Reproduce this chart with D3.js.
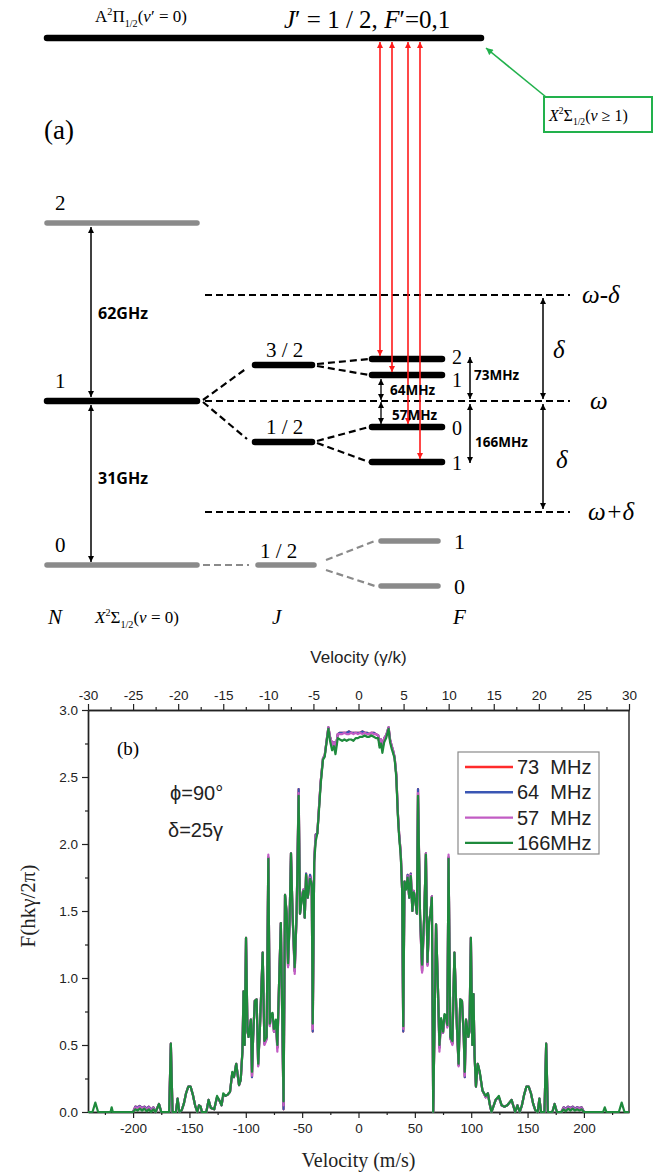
<!DOCTYPE html>
<html lang="en">
<head>
<meta charset="UTF-8">
<title>Level scheme and force profile</title>
<script src="https://d3js.org/d3.v7.min.js"></script>
<style>
  body { margin: 0; background: #fff; }
  .serif { font-family: "Liberation Serif", "Times New Roman", serif; }
  .sans { font-family: "Liberation Sans", Arial, sans-serif; }
  .bold { font-family: "Open Sans", "Liberation Sans", sans-serif; font-weight: bold; }
</style>
</head>
<body>
<svg width="661" height="1173"></svg>
<script>
// ---------- (a) level scheme values (arbitrary energy units) ----------
var excitedEnergy = 527;
var nLabels = ["0", "1", "2"];
var nEnergy = [0, 164, 342];
var jLabels = ["3 / 2", "1 / 2"];
var jEnergy = [200, 123];
var fLabels = ["2", "1", "0", "1"];
var fEnergy = [206, 190, 138, 103];
var fParent = [0, 0, 1, 1];
var groundJLabel = "1 / 2";
var groundJEnergy = 0;
var groundFLabels = ["1", "0"];
var groundFEnergy = [24, -21];
var detuneLabels = ["ω-δ", "ω", "ω+δ"];
var detuneEnergy = [270, 164, 53];
var splitLabels = ["62GHz", "31GHz", "73MHz", "64MHz", "57MHz", "166MHz"];

// ---------- (b) force profile ----------
var topTicks = [-30, -25, -20, -15, -10, -5, 0, 5, 10, 15, 20, 25, 30];
var topMinor = [-27.5, -22.5, -17.5, -12.5, -7.5, -2.5, 2.5, 7.5, 12.5, 17.5, 22.5, 27.5];
var bottomTicks = [-200, -150, -100, -50, 0, 50, 100, 150, 200];
var bottomMinor = [-225, -175, -125, -75, -25, 25, 75, 125, 175, 225];
var yTicks = [0, 0.5, 1.0, 1.5, 2.0, 2.5, 3.0];
var yMinor = [0.25, 0.75, 1.25, 1.75, 2.25, 2.75];

var seriesNames = ["73  MHz", "64  MHz", "57  MHz", "166MHz"];
var seriesColors = ["#ff2b2b", "#3a56b4", "#c25cc4", "#1e8a3c"];

var velocity = [
  -240, -236, -233.5, -231, -220, -219, -218, -200, -198, -196,
  -194, -192, -190, -188, -186, -184, -182, -180, -177, -175,
  -168, -166.5, -165, -162, -160.5, -159, -157, -155, -153, -151,
  -149, -147, -145, -143, -141.5, -140, -139, -135, -133, -131,
  -128, -125.5, -123, -121.5, -120, -118, -116, -114, -112, -110.5,
  -108.5, -106, -104.5, -103, -102, -101, -99.8, -98.5, -97.5, -95.5,
  -94.5, -93.5, -92, -90.4, -89, -87.5, -85, -83.5, -81.5, -80,
  -78.7, -77.5, -76.3, -75, -73.3, -72, -70.5, -68.9, -66.5, -65.2,
  -63.7, -62.5, -61.2, -59.9, -58.5, -56.6, -54.9, -53.1, -51.9, -50.4,
  -48.9, -47.7, -46.5, -45, -43, -41.5, -40.6, -39.3, -38, -36.5,
  -35, -33.5, -31.5, -30, -28, -26.7, -25.3, -24.2, -23.4, -21.8,
  -20.4, -18.4, -16.5, -14.5, -12.5, -10.5, -8.5, -6.5, -4.5, -2.5,
  -0.5, 1.5, 3.5, 5.5, 7.5, 9.5, 11.5, 13.5, 15.5, 17.5,
  18.7, 20, 21.2, 22.8, 24.5, 26.7, 28, 29.5, 30.6, 32,
  33.5, 35, 36, 37.5, 38.7, 39.7, 40.8, 42.2, 43.6, 45,
  46.4, 47.8, 49, 50.5, 51.8, 52.8, 54.6, 56.4, 58.3, 59.8,
  61.2, 62.6, 63.8, 65.1, 66.3, 68.8, 70.4, 71.8, 73.3, 75,
  76.3, 77.6, 78.8, 79.9, 81.5, 83.3, 85.1, 87.4, 88.8, 90.3,
  91.8, 93.4, 94.3, 95.4, 97.4, 98.4, 99.7, 101, 102, 103,
  104.2, 105.8, 107.6, 110, 112.9, 114.8, 116.4, 118, 121.7, 124.5,
  127, 129.5, 132, 135.8, 139, 141, 143, 145, 147, 149,
  151, 153, 155, 157, 159, 160.5, 162, 165, 166.5, 168,
  172, 174, 176, 180, 182, 184, 186, 188, 190, 192,
  194, 196, 198, 200, 217, 218.5, 220, 231, 233.5, 236, 240
];

var f166 = [
  0, 0, 0.07, 0, 0, 0.035, 0, 0, 0.02, 0.01,
  0.025, 0.01, 0.025, 0.005, 0.02, 0, 0.02, 0, 0.06, 0,
  0, 0.51, 0, 0, 0.1, 0, 0.01, 0.06, 0.14, 0.19,
  0.19, 0.13, 0.05, 0, 0.05, 0.04, 0, 0, 0.09, 0.03,
  0.02, 0.12, 0.08, 0.05, 0.14, 0.12, 0.13, 0.15, 0.3, 0.26,
  0.36, 0.2, 0.24, 0.45, 0.9, 0.5, 1.30, 0.6, 0.56, 0.69,
  0.3, 0.56, 0.83, 0.84, 0.36, 0.62, 1.19, 0.53, 0.56, 1.89,
  0.66, 0.73, 0.74, 0.62, 0.69, 0.5, 0.95, 1.41, 0.08, 1.62,
  1.48, 1.11, 1.41, 1.93, 1.48, 1.08, 1.48, 2.36, 1.48, 1.58,
  1.65, 1.45, 1.77, 1.6, 1.74, 1.7, 0.66, 1.86, 2.02, 2.08,
  2.26, 2.45, 2.63, 2.65, 2.78, 2.86, 2.77, 2.73, 2.7, 2.73,
  2.67, 2.79, 2.78, 2.77, 2.78, 2.77, 2.78, 2.78, 2.77, 2.79,
  2.79, 2.80, 2.80, 2.81, 2.80, 2.80, 2.81, 2.80, 2.79, 2.79,
  2.72, 2.75, 2.68, 2.76, 2.79, 2.86, 2.76, 2.71, 2.68, 2.64,
  2.5, 2.2, 2.06, 1.91, 1.66, 0.64, 1.72, 1.66, 1.75, 1.6,
  1.76, 1.5, 1.64, 1.57, 1.48, 2.36, 1.48, 1.1, 1.47, 1.92,
  1.12, 1.42, 1.48, 1.6, 0, 1.4, 0.95, 0.5, 0.7, 0.6,
  0.73, 0.72, 0.65, 1.89, 0.56, 0.53, 1.19, 0.62, 0.36, 0.84,
  0.83, 0.56, 0.3, 0.69, 0.56, 0.6, 1.30, 0.5, 0.88, 0.42,
  0.19, 0.36, 0.3, 0.16, 0.12, 0.14, 0.06, 0, 0.09, 0.12,
  0.05, 0.04, 0.05, 0.09, 0, 0.05, 0, 0.05, 0.13, 0.19,
  0.19, 0.14, 0.06, 0.01, 0, 0.1, 0, 0, 0.51, 0,
  0, 0.06, 0, 0, 0.02, 0.005, 0.025, 0.01, 0.025, 0.01,
  0.02, 0.01, 0.02, 0, 0, 0.035, 0, 0, 0.07, 0, 0
];

var f57 = [
  null, null, null, null, null, null, null, 0, 0.035, 0.03,
  0.04, 0.025, 0.035, 0.02, 0.035, 0.01, 0.03, 0, 0.06, 0,
  0, 0.51, 0, 0, 0.1, 0, 0.01, 0.06, 0.14, 0.19,
  0.19, 0.13, 0.05, 0, 0.05, 0.04, 0, 0, 0.09, 0.03,
  0.02, 0.11, 0.08, 0.05, 0.12, 0.12, 0.13, 0.15, 0.29, 0.26,
  0.36, 0.2, 0.24, 0.45, 0.9, 0.5, 1.30, 0.6, 0.56, 0.69,
  0.27, 0.56, 0.83, 0.84, 0.34, 0.62, 1.19, 0.5, 0.54, 1.92,
  0.64, 0.72, 0.72, 0.6, 0.68, 0.45, 0.95, 1.41, 0.05, 1.62,
  1.48, 1.08, 1.41, 1.93, 1.46, 1.03, 1.48, 2.38, 1.48, 1.6,
  1.66, 1.45, 1.76, 1.6, 1.75, 1.7, 0.62, 1.88, 2.05, 2.08,
  2.28, 2.47, 2.64, 2.66, 2.79, 2.87, 2.8, 2.77, 2.74, 2.76,
  2.71, 2.82, 2.82, 2.82, 2.83, 2.82, 2.82, 2.83, 2.82, 2.83,
  2.82, 2.83, 2.82, 2.83, 2.82, 2.82, 2.83, 2.82, 2.82, 2.81,
  2.74, 2.78, 2.71, 2.79, 2.81, 2.87, 2.78, 2.73, 2.7, 2.65,
  2.52, 2.22, 2.08, 1.93, 1.66, 0.62, 1.72, 1.67, 1.76, 1.6,
  1.77, 1.5, 1.65, 1.58, 1.48, 2.38, 1.47, 1.04, 1.46, 1.93,
  1.09, 1.42, 1.48, 1.61, 0, 1.4, 0.95, 0.45, 0.69, 0.59,
  0.72, 0.71, 0.63, 1.92, 0.55, 0.5, 1.19, 0.62, 0.34, 0.84,
  0.83, 0.56, 0.27, 0.69, 0.56, 0.6, 1.30, 0.5, 0.88, 0.42,
  0.19, 0.36, 0.29, 0.16, 0.11, 0.14, 0.06, 0, 0.09, 0.11,
  0.05, 0.04, 0.05, 0.09, 0, 0.05, 0, 0.05, 0.13, 0.19,
  0.19, 0.14, 0.06, 0.01, 0, 0.1, 0, 0, 0.51, 0,
  0, 0.06, 0, 0, 0.03, 0.02, 0.035, 0.025, 0.035, 0.02,
  0.03, 0.025, 0.03, 0, null, null, null, null, null, null, null
];

var f64 = [
  null, null, null, null, null, null, null, 0, 0.04, 0.035,
  0.045, 0.03, 0.04, 0.025, 0.04, 0.015, 0.035, 0, 0.06, 0,
  0, 0.51, 0, 0, 0.1, 0, 0.01, 0.06, 0.14, 0.19,
  0.19, 0.13, 0.05, 0, 0.05, 0.04, 0, 0, 0.09, 0.03,
  0.02, 0.11, 0.08, 0.05, 0.12, 0.12, 0.13, 0.15, 0.29, 0.26,
  0.36, 0.2, 0.24, 0.45, 0.9, 0.5, 1.30, 0.6, 0.56, 0.69,
  0.26, 0.56, 0.83, 0.84, 0.35, 0.62, 1.19, 0.51, 0.55, 1.9,
  0.65, 0.72, 0.73, 0.6, 0.68, 0.48, 0.95, 1.41, 0.02, 1.62,
  1.48, 1.09, 1.41, 1.93, 1.47, 1.05, 1.48, 2.41, 1.48, 1.6,
  1.66, 1.45, 1.78, 1.6, 1.77, 1.7, 0.6, 1.88, 2.07, 2.08,
  2.28, 2.47, 2.64, 2.66, 2.79, 2.87, 2.8, 2.77, 2.74, 2.76,
  2.71, 2.82, 2.83, 2.83, 2.83, 2.83, 2.84, 2.83, 2.83, 2.83,
  2.83, 2.83, 2.84, 2.83, 2.83, 2.82, 2.83, 2.83, 2.82, 2.81,
  2.74, 2.78, 2.71, 2.79, 2.81, 2.87, 2.78, 2.73, 2.7, 2.65,
  2.52, 2.22, 2.08, 1.93, 1.66, 0.6, 1.72, 1.67, 1.77, 1.6,
  1.78, 1.5, 1.65, 1.58, 1.48, 2.41, 1.47, 1.05, 1.46, 1.93,
  1.1, 1.42, 1.48, 1.61, 0, 1.4, 0.95, 0.48, 0.69, 0.59,
  0.72, 0.71, 0.64, 1.9, 0.55, 0.51, 1.19, 0.62, 0.35, 0.84,
  0.83, 0.56, 0.26, 0.69, 0.56, 0.6, 1.30, 0.5, 0.88, 0.42,
  0.19, 0.36, 0.29, 0.16, 0.11, 0.14, 0.06, 0, 0.09, 0.11,
  0.05, 0.04, 0.05, 0.09, 0, 0.05, 0, 0.05, 0.13, 0.19,
  0.19, 0.14, 0.06, 0.01, 0, 0.1, 0, 0, 0.51, 0,
  0, 0.06, 0, 0, 0.035, 0.025, 0.04, 0.03, 0.04, 0.025,
  0.035, 0.03, 0.035, 0, null, null, null, null, null, null, null
];

var f73 = [
  null, null, null, null, null, null, null, 0, 0.04, 0.035,
  0.045, 0.03, 0.04, 0.025, 0.04, 0.015, 0.035, 0, 0.06, 0,
  0, 0.51, 0, 0, 0.1, 0, 0.01, 0.06, 0.14, 0.19,
  0.19, 0.13, 0.05, 0, 0.05, 0.04, 0, 0, 0.09, 0.03,
  0.02, 0.11, 0.08, 0.05, 0.12, 0.12, 0.13, 0.15, 0.29, 0.26,
  0.36, 0.2, 0.24, 0.45, 0.9, 0.5, 1.30, 0.6, 0.56, 0.69,
  0.26, 0.56, 0.83, 0.84, 0.35, 0.62, 1.19, 0.51, 0.55, 1.9,
  0.65, 0.72, 0.73, 0.6, 0.68, 0.48, 0.95, 1.41, 0.02, 1.62,
  1.48, 1.09, 1.41, 1.93, 1.47, 1.05, 1.48, 2.41, 1.48, 1.6,
  1.66, 1.45, 1.78, 1.6, 1.77, 1.7, 0.6, 1.88, 2.07, 2.08,
  2.28, 2.47, 2.64, 2.66, 2.79, 2.87, 2.8, 2.77, 2.74, 2.76,
  2.71, 2.82, 2.83, 2.83, 2.83, 2.83, 2.84, 2.83, 2.83, 2.83,
  2.83, 2.83, 2.84, 2.83, 2.83, 2.82, 2.83, 2.83, 2.82, 2.81,
  2.74, 2.78, 2.71, 2.79, 2.81, 2.87, 2.78, 2.73, 2.7, 2.65,
  2.52, 2.22, 2.08, 1.93, 1.66, 0.6, 1.72, 1.67, 1.77, 1.6,
  1.78, 1.5, 1.65, 1.58, 1.48, 2.41, 1.47, 1.05, 1.46, 1.93,
  1.1, 1.42, 1.48, 1.61, 0, 1.4, 0.95, 0.48, 0.69, 0.59,
  0.72, 0.71, 0.64, 1.9, 0.55, 0.51, 1.19, 0.62, 0.35, 0.84,
  0.83, 0.56, 0.26, 0.69, 0.56, 0.6, 1.30, 0.5, 0.88, 0.42,
  0.19, 0.36, 0.29, 0.16, 0.11, 0.14, 0.06, 0, 0.09, 0.11,
  0.05, 0.04, 0.05, 0.09, 0, 0.05, 0, 0.05, 0.13, 0.19,
  0.19, 0.14, 0.06, 0.01, 0, 0.1, 0, 0, 0.51, 0,
  0, 0.06, 0, 0, 0.035, 0.025, 0.04, 0.03, 0.04, 0.025,
  0.035, 0.03, 0.035, 0, null, null, null, null, null, null, null
];

var seriesValues = [f73, f64, f57, f166];

var svg = d3.select("svg");
var defs = svg.append("defs");

function addMarker(id, color, w, h) {
  defs.append("marker")
    .attr("id", id)
    .attr("viewBox", "0 0 10 10")
    .attr("refX", 10).attr("refY", 5)
    .attr("markerUnits", "userSpaceOnUse")
    .attr("markerWidth", w).attr("markerHeight", h)
    .attr("orient", "auto-start-reverse")
    .append("path").attr("d", "M0,0L10,5L0,10z").attr("fill", color);
}
addMarker("arrBlack", "#000", 8, 6);
addMarker("arrRed", "#ff1a1a", 8, 6);
addMarker("arrGreen", "#22b14c", 9, 7);

// rich text helper for sub/superscripts
function rich(parent, x, y, size, parts) {
  var t = parent.append("text").attr("class", "serif")
    .attr("x", x).attr("y", y).style("font-size", size + "px");
  var shift = 0;
  parts.forEach(function(p) {
    var s = t.append("tspan").text(p.t);
    var target = p.sup ? -0.42 * size : (p.sub ? 0.28 * size : 0);
    s.attr("dy", target - shift);
    shift = target;
    if (p.sup || p.sub) s.style("font-size", (0.6 * size) + "px");
    if (p.i) s.style("font-style", "italic");
  });
  return t;
}

// ================= (a) =================
var gA = svg.append("g");
var yE = d3.scaleLinear().domain([0, excitedEnergy]).range([565, 38]);

var colN = [47, 197], colJ = [255, 312], colF = [372, 442];
var colJg = [258, 314], colFg = [381, 438];
var dashStart = 205, dashEnd = 570;

function bar(x0, x1, e, color, w) {
  gA.append("line").attr("x1", x0).attr("x2", x1)
    .attr("y1", yE(e)).attr("y2", yE(e))
    .attr("stroke", color).attr("stroke-width", w).attr("stroke-linecap", "round");
}
function dash(x0, y0, x1, y1, color) {
  gA.append("line").attr("x1", x0).attr("y1", y0).attr("x2", x1).attr("y2", y1)
    .attr("stroke", color).attr("stroke-width", 2.2).attr("stroke-dasharray", "7,4");
}
function arrow(x, y0, y1, color, marker, w) {
  gA.append("line").attr("x1", x).attr("x2", x).attr("y1", y0).attr("y2", y1)
    .attr("stroke", color).attr("stroke-width", w)
    .attr("marker-start", "url(#" + marker + ")")
    .attr("marker-end", "url(#" + marker + ")");
}

var gray = "#8a8a8a";

// excited state
bar(47, 481, excitedEnergy, "#000", 6.5);
rich(gA, 95, 22, 17, [{t: "A"}, {t: "2", sup: true}, {t: "Π"}, {t: "1/2", sub: true}, {t: "("}, {t: "ν", i: true}, {t: "′ = 0)"}]);
rich(gA, 284, 28, 25, [{t: "J", i: true}, {t: "′ = 1 / 2, "}, {t: "F", i: true}, {t: "′=0,1"}]);

gA.append("text").attr("class", "serif").attr("x", 44).attr("y", 139)
  .style("font-size", "27px").text("(a)");

// vibrational leak box
gA.append("rect").attr("x", 544).attr("y", 97).attr("width", 108).attr("height", 35)
  .attr("fill", "#fff").attr("stroke", "#22b14c").attr("stroke-width", 2);
rich(gA, 549, 121, 16, [{t: "X", i: true}, {t: "2", sup: true}, {t: "Σ"}, {t: "1/2", sub: true}, {t: "("}, {t: "ν", i: true}, {t: " ≥ 1)"}]);
gA.append("line").attr("x1", 546).attr("y1", 97).attr("x2", 486).attr("y2", 48)
  .attr("stroke", "#22b14c").attr("stroke-width", 1.6).attr("marker-end", "url(#arrGreen)");

// detuning reference lines
detuneEnergy.forEach(function(e, i) {
  dash(dashStart, yE(e), dashEnd, yE(e), "#000");
  gA.append("text").attr("class", "serif").attr("x", [582, 590, 588][i]).attr("y", yE(e) + 8)
    .style("font-size", "25px").style("font-style", "italic").text(detuneLabels[i]);
});

// rotational levels N
nEnergy.forEach(function(e, i) {
  bar(colN[0], colN[1], e, i === 1 ? "#000" : gray, i === 1 ? 6.5 : 5.5);
  gA.append("text").attr("class", "serif").attr("x", 55).attr("y", yE(e) - 13)
    .style("font-size", "21px").text(nLabels[i]);
});

// spin-rotation J
jEnergy.forEach(function(e, i) {
  bar(colJ[0], colJ[1], e, "#000", 6.5);
  gA.append("text").attr("class", "serif").attr("x", colJ[0] + 11).attr("y", yE(e) - 8)
    .style("font-size", "21px").text(jLabels[i]);
  dash(colN[1] + 6, yE(nEnergy[1]) + (i === 0 ? -1 : 1), colJ[0] - 8, yE(e) + (i === 0 ? 3 : -3), "#000");
});

// hyperfine F
var fLabelDy = [5, 12, 8, 8];
fEnergy.forEach(function(e, i) {
  bar(colF[0], colF[1], e, "#000", 6.5);
  gA.append("text").attr("class", "serif").attr("x", 452).attr("y", yE(e) + fLabelDy[i])
    .style("font-size", "20px").text(fLabels[i]);
  var je = jEnergy[fParent[i]];
  dash(colJ[1] + 5, yE(je) + (e > je ? -1 : 1), colF[0] - 3, yE(e), "#000");
});

// ground N=0 structure
bar(colJg[0], colJg[1], groundJEnergy, gray, 5.5);
gA.append("text").attr("class", "serif").attr("x", colJg[0] + 2).attr("y", yE(groundJEnergy) - 7)
  .style("font-size", "21px").text(groundJLabel);
dash(colN[1] + 6, yE(0), colJg[0] - 9, yE(0), gray);
groundFEnergy.forEach(function(e, i) {
  bar(colFg[0], colFg[1], e, gray, 5.5);
  gA.append("text").attr("class", "serif").attr("x", 454).attr("y", yE(e) + 8)
    .style("font-size", "22px").text(groundFLabels[i]);
  dash(colJg[1] + 12, yE(groundJEnergy) + (e > 0 ? -5 : 5), colFg[0] - 6, yE(e), gray);
});

// pump lasers (red)
var pumpX = [380, 392, 408, 420];
fEnergy.forEach(function(e, i) {
  arrow(pumpX[i], yE(excitedEnergy) + 4, yE(e) - 3, "#ff1a1a", "arrRed", 1.6);
});

// splittings
arrow(91, yE(nEnergy[2]) + 4, yE(nEnergy[1]) - 4, "#000", "arrBlack", 1.5);
arrow(91, yE(nEnergy[1]) + 4, yE(nEnergy[0]) - 3, "#000", "arrBlack", 1.5);
arrow(381, yE(fEnergy[1]) + 4, yE(detuneEnergy[1]) - 1, "#000", "arrBlack", 1.3);
arrow(381, yE(detuneEnergy[1]) + 1, yE(fEnergy[2]) - 3, "#000", "arrBlack", 1.3);
arrow(470, yE(fEnergy[0]) - 2, yE(detuneEnergy[1]) - 2, "#000", "arrBlack", 1.5);
arrow(470, yE(detuneEnergy[1]) + 3, yE(fEnergy[3]) + 1, "#000", "arrBlack", 1.5);
arrow(543, yE(detuneEnergy[0]) + 3, yE(detuneEnergy[1]) - 2, "#000", "arrBlack", 1.5);
arrow(543, yE(detuneEnergy[1]) + 3, yE(detuneEnergy[2]) - 3, "#000", "arrBlack", 1.5);

var splitPos = [[98, 319, 16], [98, 484, 16], [474, 380, 13.5], [390, 395, 13.5], [392, 420, 13.5], [475, 447, 13.5]];
splitLabels.forEach(function(s, i) {
  gA.append("text").attr("class", "bold").attr("x", splitPos[i][0]).attr("y", splitPos[i][1])
    .style("font-size", splitPos[i][2] + "px").text(s);
});
[[553, 358], [556, 468]].forEach(function(p) {
  gA.append("text").attr("class", "serif").attr("x", p[0]).attr("y", p[1])
    .style("font-size", "25px").style("font-style", "italic").text("δ");
});

// column captions
gA.append("text").attr("class", "serif").attr("x", 48).attr("y", 624)
  .style("font-size", "21px").style("font-style", "italic").text("N");
rich(gA, 95, 623, 17, [{t: "X", i: true}, {t: "2", sup: true}, {t: "Σ"}, {t: "1/2", sub: true}, {t: "("}, {t: "ν", i: true}, {t: " = 0)"}]);
gA.append("text").attr("class", "serif").attr("x", 272).attr("y", 624)
  .style("font-size", "21px").style("font-style", "italic").text("J");
gA.append("text").attr("class", "serif").attr("x", 453).attr("y", 624)
  .style("font-size", "21px").style("font-style", "italic").text("F");

// ================= (b) =================
var plotLeft = 88, plotRight = 629, plotTop = 710, plotBottom = 1112;
var xV = d3.scaleLinear().domain([-240, 240]).range([plotLeft, plotRight]);
var xG = d3.scaleLinear().domain([-30, 30]).range([plotLeft, plotRight]);
var yF = d3.scaleLinear().domain([0, 3]).range([plotBottom, plotTop]);

var gB = svg.append("g");

function styleAxis(sel, size) {
  sel.selectAll("path").attr("stroke", "#222").attr("stroke-width", 1.4);
  sel.selectAll("line").attr("stroke", "#222").attr("stroke-width", 1.2);
  sel.selectAll("text").attr("class", "sans").style("font-size", size + "px").attr("fill", "#222");
}

var ax;
ax = gB.append("g").attr("transform", "translate(0," + plotTop + ")")
  .call(d3.axisTop(xG).tickValues(topMinor).tickSize(3).tickSizeOuter(0).tickFormat(""));
styleAxis(ax, 13.5);
ax = gB.append("g").attr("transform", "translate(0," + plotTop + ")")
  .call(d3.axisTop(xG).tickValues(topTicks).tickSize(6).tickSizeOuter(0).tickPadding(4).tickFormat(function(d) { return String(d); }));
styleAxis(ax, 13.5);

ax = gB.append("g").attr("transform", "translate(0," + plotBottom + ")")
  .call(d3.axisBottom(xV).tickValues(bottomMinor).tickSize(3).tickSizeOuter(0).tickFormat(""));
styleAxis(ax, 13.5);
ax = gB.append("g").attr("transform", "translate(0," + plotBottom + ")")
  .call(d3.axisBottom(xV).tickValues(bottomTicks).tickSize(6).tickSizeOuter(0).tickPadding(5).tickFormat(function(d) { return String(d); }));
styleAxis(ax, 13.5);

ax = gB.append("g").attr("transform", "translate(" + plotLeft + ",0)")
  .call(d3.axisLeft(yF).tickValues(yMinor).tickSize(3).tickSizeOuter(0).tickFormat(""));
styleAxis(ax, 13.5);
ax = gB.append("g").attr("transform", "translate(" + plotLeft + ",0)")
  .call(d3.axisLeft(yF).tickValues(yTicks).tickSize(6).tickSizeOuter(0).tickPadding(4).tickFormat(d3.format(".1f")));
styleAxis(ax, 13.5);

gB.append("line").attr("x1", plotRight).attr("x2", plotRight).attr("y1", plotTop).attr("y2", plotBottom)
  .attr("stroke", "#222").attr("stroke-width", 1.4);

// curves
var line = d3.line()
  .defined(function(d) { return d[1] !== null; })
  .x(function(d) { return xV(d[0]); })
  .y(function(d) { return yF(d[1]); });

seriesValues.forEach(function(vals, k) {
  var pts = velocity.map(function(v, i) { return [v, vals[i]]; });
  gB.append("path").datum(pts)
    .attr("fill", "none")
    .attr("stroke", seriesColors[k])
    .attr("stroke-width", 2.2)
    .attr("stroke-linejoin", "round")
    .attr("d", line);
});

// axis titles
gB.append("text").attr("class", "sans").attr("x", (plotLeft + plotRight) / 2).attr("y", 663)
  .attr("text-anchor", "middle").style("font-size", "17px").attr("fill", "#222").text("Velocity (γ/k)");
gB.append("text").attr("class", "serif").attr("x", (plotLeft + plotRight) / 2).attr("y", 1167)
  .attr("text-anchor", "middle").style("font-size", "20px").attr("fill", "#222").text("Velocity (m/s)");
gB.append("text").attr("class", "serif")
  .attr("transform", "translate(35," + ((plotTop + plotBottom) / 2 - 5) + ") rotate(-90)")
  .attr("text-anchor", "middle").style("font-size", "21px").attr("fill", "#222").text("F(hkγ/2π)");

gB.append("text").attr("class", "serif").attr("x", 117).attr("y", 755)
  .style("font-size", "19px").text("(b)");
gB.append("text").attr("class", "sans").attr("x", 170).attr("y", 800)
  .style("font-size", "20px").attr("fill", "#222").text("ϕ=90°");
gB.append("text").attr("class", "sans").attr("x", 168).attr("y", 837)
  .style("font-size", "20px").attr("fill", "#222").text("δ=25γ");

// legend
var leg = gB.append("g");
leg.append("rect").attr("x", 458).attr("y", 752).attr("width", 141).attr("height", 102)
  .attr("fill", "#fff").attr("stroke", "#8a8a8a").attr("stroke-width", 1.2);
seriesNames.forEach(function(name, k) {
  var yy = 767 + k * 25.3;
  leg.append("line").attr("x1", 465).attr("x2", 513).attr("y1", yy).attr("y2", yy)
    .attr("stroke", seriesColors[k]).attr("stroke-width", 2.4);
  leg.append("text").attr("class", "sans").attr("x", 517).attr("y", yy + 7)
    .style("font-size", "20px").style("white-space", "pre").attr("fill", "#222").text(name);
});
</script>
</body>
</html>
